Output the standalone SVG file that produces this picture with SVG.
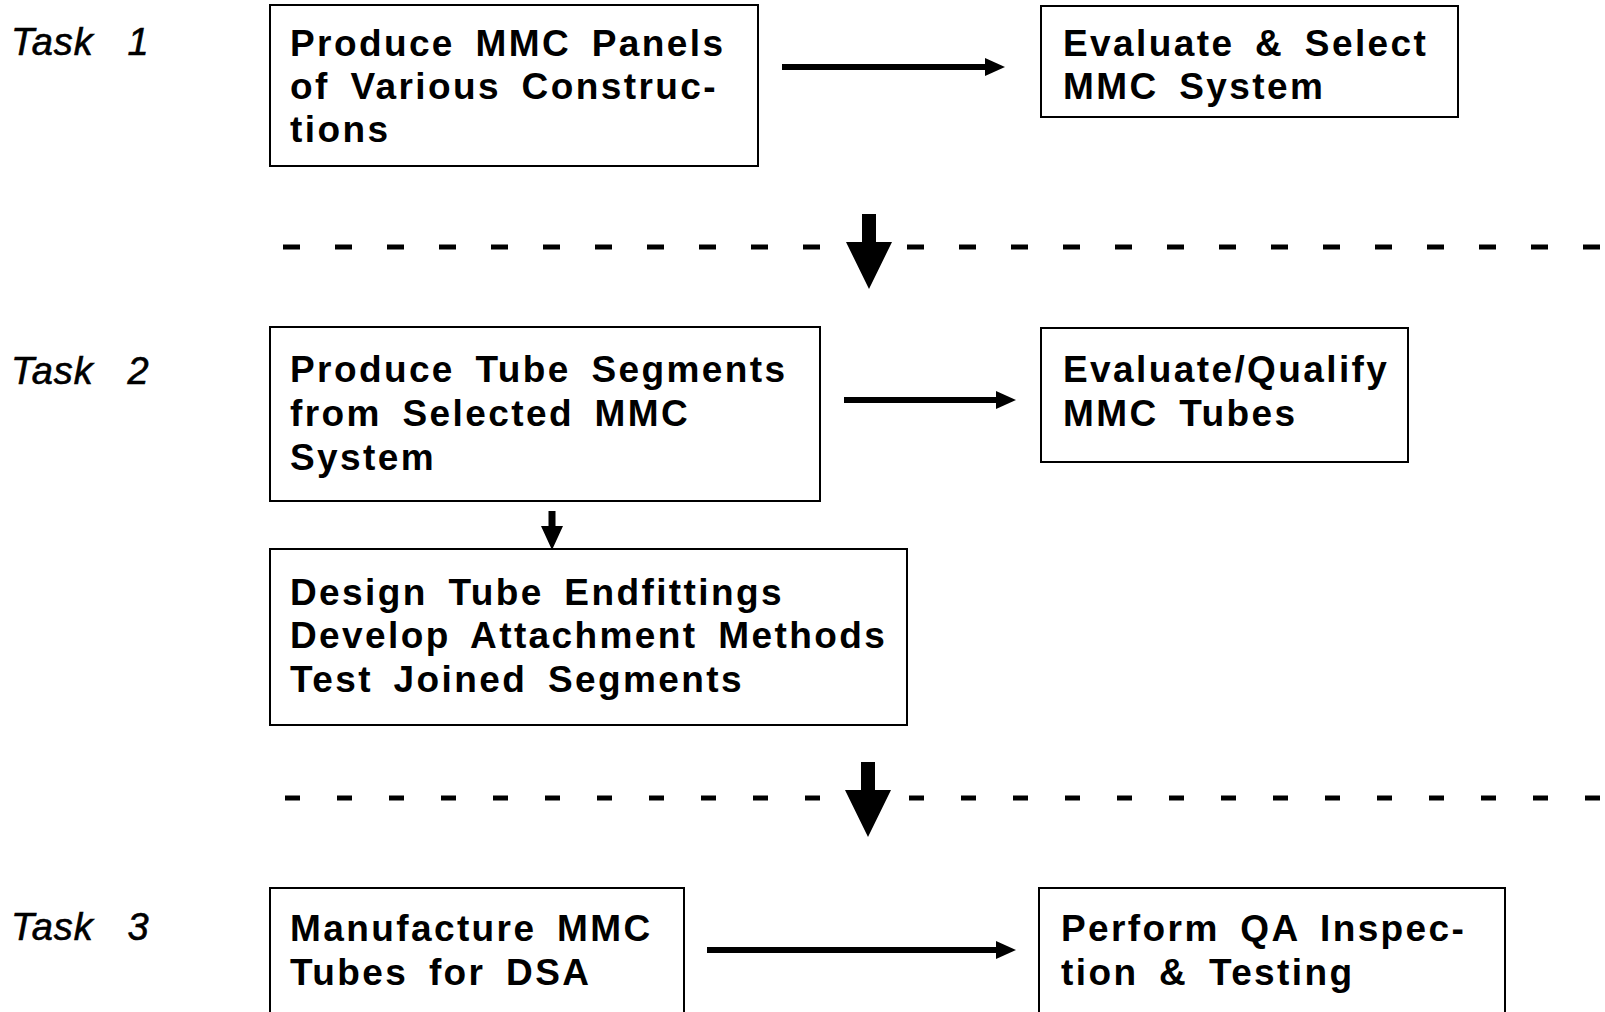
<svg xmlns="http://www.w3.org/2000/svg" width="1605" height="1012" viewBox="0 0 1605 1012">
<style>
.box{fill:#fff;stroke:#000;stroke-width:2}
.t{font-family:"Liberation Sans",Arial,sans-serif;font-weight:bold;font-size:37px;letter-spacing:2.4px;word-spacing:8px;fill:#000}
.task{font-family:"Liberation Sans",Arial,sans-serif;font-style:italic;font-size:38px;letter-spacing:1px;word-spacing:22px;fill:#000;stroke:#000;stroke-width:0.6}
.dash{stroke:#000;stroke-width:5;fill:none}
.conn{stroke:#000;stroke-width:6;fill:none}
</style>
<defs>
<marker id="ah" viewBox="0 0 20 18" refX="4" refY="9" markerWidth="20" markerHeight="18" markerUnits="userSpaceOnUse" orient="auto">
<path d="M0,0 L20,9 L0,18 Z" fill="#000"/>
</marker>
<path id="big" d="M-7,-75 L7,-75 L7,-47 L23,-47 L0,0 L-23,-47 L-7,-47 Z" fill="#000"/>
</defs>
<rect width="1605" height="1012" fill="#fff"/>
<g id="labels">
<text class="task" x="11" y="55">Task 1</text>
<text class="task" x="11" y="384">Task 2</text>
<text class="task" x="11" y="940">Task 3</text>
</g>
<g id="dividers">
<line class="dash" x1="283" y1="247" x2="1605" y2="247" stroke-dasharray="17 35"/>
<line class="dash" x1="285" y1="798" x2="1605" y2="798" stroke-dasharray="15 37"/>
</g>
<g id="node1">
<rect class="box" x="270" y="5" width="488" height="161"/>
<text class="t" x="290" y="56">Produce MMC Panels</text>
<text class="t" x="290" y="99">of Various Construc-</text>
<text class="t" x="290" y="142">tions</text>
</g>
<g id="node2">
<rect class="box" x="1041" y="6" width="417" height="111"/>
<text class="t" x="1063" y="56">Evaluate &amp; Select</text>
<text class="t" x="1063" y="99">MMC System</text>
</g>
<g id="node3">
<rect class="box" x="270" y="327" width="550" height="174"/>
<text class="t" x="290" y="382">Produce Tube Segments</text>
<text class="t" x="290" y="426">from Selected MMC</text>
<text class="t" x="290" y="470">System</text>
</g>
<g id="node4">
<rect class="box" x="1041" y="328" width="367" height="134"/>
<text class="t" x="1063" y="382">Evaluate/Qualify</text>
<text class="t" x="1063" y="426">MMC Tubes</text>
</g>
<g id="node5">
<rect class="box" x="270" y="549" width="637" height="176"/>
<text class="t" x="290" y="605">Design Tube Endfittings</text>
<text class="t" x="290" y="648">Develop Attachment Methods</text>
<text class="t" x="290" y="692">Test Joined Segments</text>
</g>
<g id="node6">
<rect class="box" x="270" y="888" width="414" height="150"/>
<text class="t" x="290" y="941">Manufacture MMC</text>
<text class="t" x="290" y="985">Tubes for DSA</text>
</g>
<g id="node7">
<rect class="box" x="1039" y="888" width="466" height="150"/>
<text class="t" x="1061" y="941">Perform QA Inspec-</text>
<text class="t" x="1061" y="985">tion &amp; Testing</text>
</g>
<g id="connectors">
<line class="conn" x1="782" y1="67" x2="989" y2="67" marker-end="url(#ah)"/>
<line class="conn" x1="844" y1="400" x2="1000" y2="400" marker-end="url(#ah)"/>
<line class="conn" x1="707" y1="950" x2="1000" y2="950" marker-end="url(#ah)"/>
<path d="M548.5,511 L555.5,511 L555.5,526 L563,526 L552,550 L541,526 L548.5,526 Z" fill="#000"/>
<use href="#big" transform="translate(869,289)"/>
<use href="#big" transform="translate(868,837)"/>
</g>
</svg>
